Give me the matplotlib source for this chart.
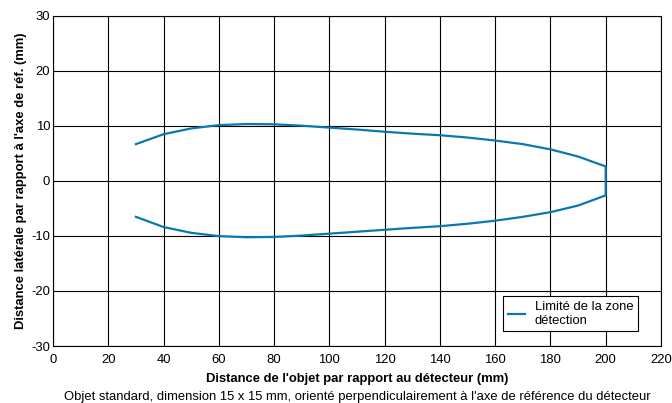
import matplotlib.pyplot as plt
import numpy as np

plt.rcParams['font.family'] = ['Liberation Sans', 'DejaVu Sans']
plt.rcParams['axes.unicode_minus'] = False

# Limite de la zone de détection (upper half, lower half)
x_mm = [30, 40, 50, 60, 70, 80, 90, 100, 110, 120, 130, 140, 150, 160, 170, 180, 190, 200]
y_upper = [6.65, 8.45, 9.5, 10.1, 10.3, 10.25, 10.0, 9.65, 9.3, 8.9, 8.55, 8.27, 7.85, 7.3, 6.65, 5.7, 4.4, 2.6]
y_lower = [-6.55, -8.4, -9.45, -10.05, -10.25, -10.2, -9.95, -9.6, -9.25, -8.9, -8.55, -8.25, -7.8, -7.25, -6.55, -5.7, -4.5, -2.65]

x_ticks = list(range(0, 221, 20))
y_ticks = list(range(-30, 31, 10))

fs = 9.4
fig = plt.figure(figsize=(6.72, 4.03), dpi=100)
ax = fig.add_axes([0.0789, 0.1414, 0.9047, 0.8201])

# closed contour: upper branch out to 200, then lower branch back
xs = np.concatenate([x_mm, x_mm[::-1]])
ys = np.concatenate([y_upper, y_lower[::-1]])
ax.plot(xs, ys, color='#0a78b0', lw=1.6, label='Limité de la zone\ndétection')

ax.set_xlim(0, 220)
ax.set_ylim(-30, 30)
ax.set_xticks(x_ticks)
ax.set_yticks(y_ticks)
ax.grid(True, color='black', lw=0.8)
ax.tick_params(length=0, labelsize=fs)
ax.tick_params(axis='x', pad=6)
ax.tick_params(axis='y', pad=2)
for s in ax.spines.values():
    s.set_color('black')
    s.set_linewidth(0.8)

ax.set_xlabel("Distance de l'objet par rapport au détecteur (mm)", fontsize=fs, fontweight='bold', labelpad=5)
ax.set_ylabel("Distance latérale par rapport à l'axe de réf. (mm)", fontsize=fs, fontweight='bold', labelpad=3)
fig.text(0.531, 0.0, "Objet standard, dimension 15 x 15 mm, orienté perpendiculairement à l'axe de référence du détecteur",
         ha='center', va='bottom', fontsize=fs)

leg = ax.legend(loc='lower right', bbox_to_anchor=(0.962, 0.045), borderaxespad=0, fontsize=fs,
                frameon=True, fancybox=False, edgecolor='black', framealpha=1,
                handlelength=1.3, handletextpad=0.75, borderpad=0.35, labelspacing=0.15)
leg.get_frame().set_linewidth(0.8)

fig.savefig('out.png', dpi=100)
